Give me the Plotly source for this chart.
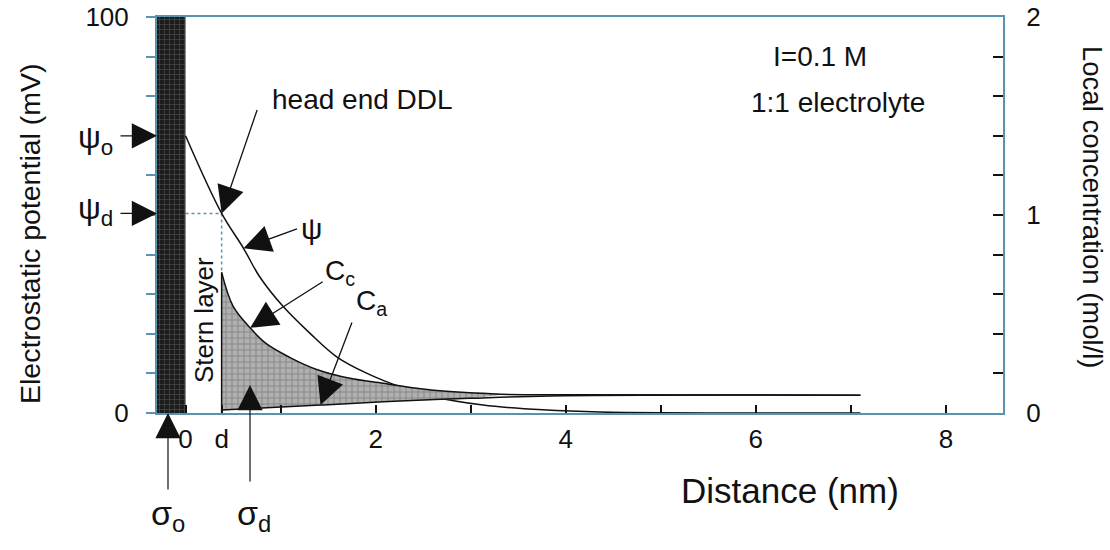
import plotly.graph_objects as go

# ---------------- data ----------------
# electrostatic potential psi (mV) vs distance (nm), left axis
psi_x = [0.0, 0.38, 0.61, 0.78, 1.03, 1.31, 1.59, 1.91, 2.26, 2.61, 3.13, 3.76, 4.36, 7.1]
psi_mv = [70.0, 50.4, 41.6, 34.4, 26.8, 20.1, 14.2, 10.0, 6.6, 4.1, 2.0, 0.8, 0.25, 0.0]

# cation concentration Cc (mol/l), right axis
cc_x = [0.38, 0.50, 0.68, 0.85, 1.10, 1.38, 1.73, 2.08, 2.43, 2.78, 3.31, 4.0, 7.1]
cc = [0.71, 0.54, 0.43, 0.35, 0.28, 0.22, 0.175, 0.15, 0.125, 0.108, 0.095, 0.092, 0.09]

# anion concentration Ca (mol/l), right axis
ca_x = [0.38, 0.85, 1.42, 2.08, 2.99, 3.83, 7.1]
ca = [0.015, 0.026, 0.04, 0.057, 0.074, 0.086, 0.09]

d_nm = 0.38            # Stern layer thickness
wall_x = [-0.3, 0.0]   # charged surface (solid wall)
shade_end = 3.4        # end of the shaded region between Cc and Ca

x_ticks = [0, d_nm, 1, 2, 3, 4, 5, 6, 7, 8]
x_ticktext = ["0", "d", "", "2", "", "4", "", "6", "", "8"]
y_ticks = list(range(0, 101, 10))
y_ticktext = ["0"] + [""] * 9 + ["100"]
y2_ticks = [i / 5 for i in range(11)]
y2_ticktext = ["0", "", "", "", "", "1", "", "", "", "", "2"]

# ---------------- styling ----------------
AX = "#5a93b0"
INK = "#111111"
FONT = "Liberation Sans, Arial, Helvetica, sans-serif"

fig = go.Figure()

# the charged wall
fig.add_trace(go.Scatter(
    x=[wall_x[0], wall_x[1], wall_x[1], wall_x[0], wall_x[0]],
    y=[0, 0, 100, 100, 0],
    fill="toself", mode="lines", line=dict(width=0, color="#1c1c1c"),
    fillcolor="#1c1c1c",
    fillpattern=dict(shape="+", fgcolor="#7a7a7a", bgcolor="#1c1c1c", size=5, solidity=0.25),
    hoverinfo="skip"))

# shaded region between Cc and Ca
sx = [x for x in cc_x if x <= shade_end]
sy = [y for x, y in zip(cc_x, cc) if x <= shade_end]
bx = [x for x in ca_x if x <= shade_end]
by = [y for x, y in zip(ca_x, ca) if x <= shade_end]
fig.add_trace(go.Scatter(
    x=sx + bx[::-1], y=sy + by[::-1], yaxis="y2",
    fill="toself", mode="lines", line=dict(width=0, color="#999", shape="spline"),
    fillcolor="#a0a0a0",
    fillpattern=dict(shape="+", fgcolor="#5e5e5e", bgcolor="#b0b0b0", size=6, solidity=0.3),
    hoverinfo="skip"))

# Stern layer boundary (solid) up to Cc start
fig.add_trace(go.Scatter(x=[d_nm, d_nm], y=[0, cc[0]], yaxis="y2", mode="lines",
                         line=dict(color=INK, width=1.5), hoverinfo="skip"))
# dotted guides to psi_d
fig.add_trace(go.Scatter(x=[wall_x[1], psi_x[1]], y=[psi_mv[1], psi_mv[1]], mode="lines",
                         line=dict(color=AX, width=1.5, dash="dot"), hoverinfo="skip"))
fig.add_trace(go.Scatter(x=[psi_x[1], psi_x[1]], y=[psi_mv[1], cc[0] * 50], mode="lines",
                         line=dict(color=AX, width=1.5, dash="dot"), hoverinfo="skip"))

# curves
fig.add_trace(go.Scatter(x=psi_x, y=psi_mv, mode="lines", line=dict(color=INK, width=1.5, shape="spline"),
                         name="psi"))
fig.add_trace(go.Scatter(x=cc_x, y=cc, yaxis="y2", mode="lines",
                         line=dict(color=INK, width=1.5, shape="spline"), name="Cc"))
fig.add_trace(go.Scatter(x=ca_x, y=ca, yaxis="y2", mode="lines",
                         line=dict(color=INK, width=1.5, shape="spline"), name="Ca"))

# ---------------- layout ----------------
W, H = 1110, 550
L, R, T, B = 157, 107, 17, 137
fig.update_layout(
    width=W, height=H, margin=dict(l=L, r=R, t=T, b=B, autoexpand=False),
    plot_bgcolor="white", paper_bgcolor="white", showlegend=False,
    font=dict(family=FONT, color=INK, size=26),
    xaxis=dict(range=[-0.3, 8.6], showline=True, linecolor=AX, linewidth=2, mirror=True,
               tickmode="array", tickvals=x_ticks, ticktext=x_ticktext,
               ticks="inside", ticklen=8, tickcolor=INK, tickwidth=1.5, ticklabelstandoff=2,
               ticklabeloverflow="allow",
               showgrid=False, zeroline=False, tickfont=dict(size=26), automargin=False),
    yaxis=dict(range=[0, 100], showline=True, linecolor=AX, linewidth=2,
               tickmode="array", tickvals=y_ticks, ticktext=y_ticktext,
               ticks="outside", ticklen=9, tickcolor=AX, tickwidth=1.5, ticklabelstandoff=12,
               ticklabeloverflow="allow",
               showgrid=False, zeroline=False, tickfont=dict(size=26), automargin=False),
    yaxis2=dict(range=[0, 2], overlaying="y", side="right", showline=True, linecolor=AX, linewidth=2,
                tickmode="array", tickvals=y2_ticks, ticktext=y2_ticktext,
                ticks="inside", ticklen=10, tickcolor=INK, tickwidth=1.5, ticklabelstandoff=16,
                ticklabeloverflow="allow",
                showgrid=False, zeroline=False, tickfont=dict(size=26), automargin=False),
)

# helpers: reference-picture pixels -> data / paper coordinates (annotation placement only)
X0, XS = 185.5, 95.06
def px(p):
    return (p - X0) / XS
def py(p):
    return (413 - p) / 3.96
def xp(p):
    return (p - L) / (W - L - R)
def yp(p):
    return (H - B - p) / (H - T - B)

ann = []
def arrow(x, y, ax, ay, yref="y", xref="x", size=4.2, width=1.3):
    ann.append(dict(x=x, y=y, xref=xref, yref=yref, ax=ax, ay=ay, text="", showarrow=True,
                    arrowhead=2, arrowsize=size, arrowwidth=width, arrowcolor=INK))
def label(x, y, text, size=28, angle=0):
    ann.append(dict(x=xp(x), y=yp(y), xref="paper", yref="paper",
                    xanchor="center", yanchor="middle",
                    text=text, showarrow=False,
                    font=dict(size=size, family=FONT, color=INK), textangle=angle))

# head end DDL
label(362, 100, "head end DDL", size=28)
arrow(psi_x[1], psi_mv[1], 36, -105)
# psi
label(311, 228, "ψ", size=30)
arrow(psi_x[2], psi_mv[2], 55, -20)
# Cc
label(340, 272, "C<sub>c</sub>", size=28)
arrow(cc_x[2], cc[2], 74, -47, yref="y2")
# Ca
label(371, 302, "C<sub>a</sub>", size=28)
arrow(ca_x[2], ca[2], 32, -84, yref="y2")
# Stern layer
label(204, 320, "Stern layer", size=26, angle=-90)
# box text
label(820, 57, "I=0.1 M", size=28)
label(838, 102, "1:1 electrolyte", size=28)
# psi_o / psi_d on left
arrow(wall_x[0], psi_mv[0], -38, 0, size=4.2, width=1.2)
arrow(wall_x[0], psi_mv[1], -38, 0, size=4.2, width=1.2)
label(95, 140, "ψ<sub>o</sub>", size=32)
label(95, 210, "ψ<sub>d</sub>", size=32)
# sigma arrows
arrow(xp(168), yp(413), 0, 78, xref="paper", yref="paper", size=4.2, width=1.2)
arrow(px(250), py(385), 0, 98, size=4.2, width=1.2)
label(168, 515, "σ<sub>o</sub>", size=34)
label(254, 515, "σ<sub>d</sub>", size=34)

# axis titles
label(30, 234, "Electrostatic potential (mV)", size=28.5, angle=-90)
label(1093, 207, "Local concentration (mol/l)", size=27.5, angle=90)
label(790, 490, "Distance (nm)", size=35)

fig.update_layout(annotations=ann)
# remove the default 8 px page margin so the figure fills the window exactly
fig.write_html("out.html", config={"displayModeBar": False},
               post_script="document.body.style.margin='0';document.body.style.overflow='hidden';")
